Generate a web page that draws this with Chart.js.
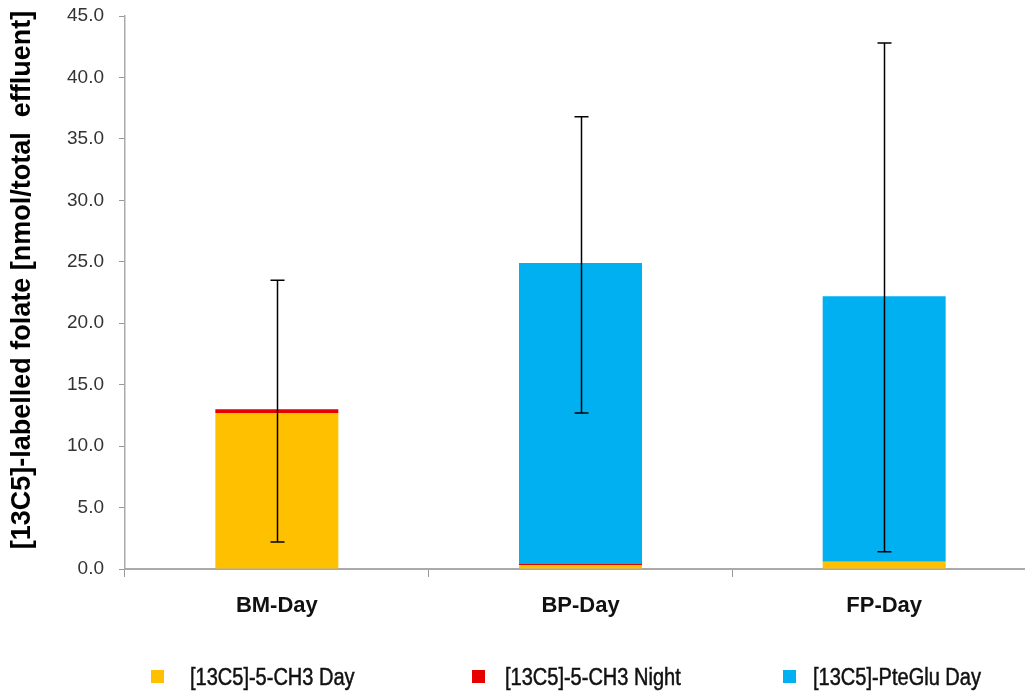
<!DOCTYPE html>
<html><head><meta charset="utf-8">
<script src="https://cdn.jsdelivr.net/npm/chart.js@4.4.0/dist/chart.umd.min.js"></script>
<style>
html,body{margin:0;padding:0;background:#fff;overflow:hidden;width:1025px;height:693px;}
#wrap{position:absolute;left:0;top:0;width:1036px;height:693px;}
#legend{position:absolute;left:0;top:0;width:1025px;height:693px;pointer-events:none;}
.li{position:absolute;top:663px;height:28px;line-height:28px;font-family:"Liberation Sans",Arial,sans-serif;font-size:23px;color:#111;white-space:nowrap;transform:scaleX(0.87);transform-origin:left center;-webkit-text-stroke:0.5px #111;}
.sw{position:absolute;width:13px;height:13px;top:670px;}
</style></head>
<body>
<div id="wrap"><canvas id="c" width="1036" height="693"></canvas></div>
<div id="legend"></div>
<script>
const categories = ['BM-Day', 'BP-Day', 'FP-Day'];
const seriesLabels = ['[13C5]-5-CH3 Day', '[13C5]-5-CH3 Night', '[13C5]-PteGlu Day'];
const ch3Day = [12.7, 0.3, 0.6];
const ch3Night = [0.3, 0.15, 0.0];
const pteGluDay = [0.0, 24.45, 21.6];
const errLow = [2.2, 12.7, 1.4];
const errHigh = [23.5, 36.8, 42.8];
const yTicks = [0, 5, 10, 15, 20, 25, 30, 35, 40, 45];
const yTitle = '[13C5]-labelled folate [nmol/total  effluent]';
const colors = ['#FFC000', '#E60000', '#00B0F0'];

const errorBars = {
  id: 'errorBars',
  afterDatasetsDraw(chart) {
    const ctx = chart.ctx, x = chart.scales.x, y = chart.scales.y;
    ctx.save();
    ctx.strokeStyle = '#000';
    ctx.lineWidth = 1.5;
    categories.forEach((c, i) => {
      const px = Math.round(x.getPixelForValue(i)) + 0.5;
      const y1 = y.getPixelForValue(errLow[i]);
      const y2 = y.getPixelForValue(errHigh[i]);
      ctx.beginPath();
      ctx.moveTo(px, y1); ctx.lineTo(px, y2);
      ctx.moveTo(px - 7, y1); ctx.lineTo(px + 7, y1);
      ctx.moveTo(px - 7, y2); ctx.lineTo(px + 7, y2);
      ctx.stroke();
    });
    ctx.restore();
  }
};

const yTitlePlugin = {
  id: 'yTitlePlugin',
  afterDraw(chart) {
    const ctx = chart.ctx;
    ctx.save();
    ctx.translate(23, 280);
    ctx.rotate(-Math.PI / 2);
    ctx.font = 'bold 27px "Liberation Sans", Arial, sans-serif';
    ctx.fillStyle = '#000';
    ctx.textAlign = 'center';
    ctx.textBaseline = 'middle';
    ctx.fillText(yTitle, 0, 0);
    ctx.restore();
  }
};

const ds = [ch3Day, ch3Night, pteGluDay].map((d, i) => ({
  label: seriesLabels[i], data: d, backgroundColor: colors[i], borderWidth: 0,
  categoryPercentage: 1.0, barPercentage: 0.405
}));

new Chart(document.getElementById('c'), {
  type: 'bar',
  data: { labels: categories, datasets: ds },
  plugins: [errorBars, yTitlePlugin],
  options: {
    responsive: false, animation: false,
    layout: { padding: { top: 16, right: 0, bottom: 0, left: 0 } },
    plugins: { legend: { display: false }, tooltip: { enabled: false } },
    scales: {
      x: {
        stacked: true,
        afterFit(s) { s.height = 124; },
        grid: { display: true, drawOnChartArea: false, offset: true, tickLength: 8, color: '#999' },
        border: { color: '#aaa', width: 2 },
        ticks: { padding: 16, color: '#111', font: { family: '"Liberation Sans", Arial, sans-serif', size: 22, weight: 'bold' } }
      },
      y: {
        stacked: true, min: 0, max: 45,
        afterFit(s) { s.width = 125; s.paddingTop = 0; s.paddingBottom = 0; },
        afterBuildTicks(s) { s.ticks = yTicks.map(v => ({ value: v })); },
        grid: { display: true, drawOnChartArea: false, tickLength: 6, color: '#999' },
        border: { color: '#aaa', width: 1.5 },
        ticks: { padding: 15, color: '#333', font: { family: '"Liberation Sans", Arial, sans-serif', size: 19 }, callback: v => Number(v).toFixed(1) },
        title: { display: false }
      }
    }
  }
});

const legendPos = [[151, 190], [472, 505], [783, 813]];
const lg = document.getElementById('legend');
seriesLabels.forEach((t, i) => {
  const sw = document.createElement('div');
  sw.className = 'sw'; sw.style.left = legendPos[i][0] + 'px'; sw.style.background = colors[i];
  const li = document.createElement('div');
  li.className = 'li'; li.style.left = legendPos[i][1] + 'px'; li.textContent = t;
  lg.appendChild(sw); lg.appendChild(li);
});
</script>
</body></html>
